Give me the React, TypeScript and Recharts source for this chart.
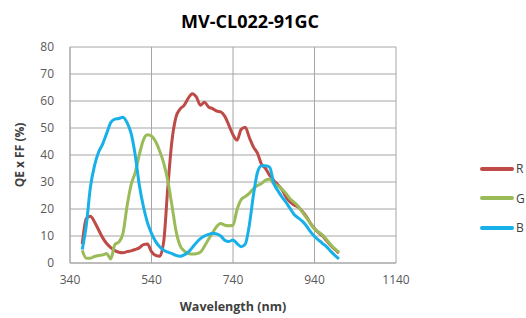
import { CartesianGrid, Legend, Line, LineChart, XAxis, YAxis } from "recharts"

const wavelengths = [
  370, 380, 390, 400, 410, 420, 430, 440, 450, 460, 470, 480, 490, 500, 510, 520, 530, 540, 550, 560,
  570, 580, 590, 600, 610, 620, 630, 640, 650, 660, 670, 680, 690, 700, 710, 720, 730, 740, 750, 760,
  770, 780, 790, 800, 810, 820, 830, 840, 850, 860, 870, 880, 890, 900, 910, 920, 930, 940, 950, 960,
  970, 980, 990, 1000,
]

const red = [
  7, 16.5, 17.3, 15.3, 12.3, 9.4, 7.2, 5.7, 4.6, 4, 3.8, 4.2, 4.5, 5, 5.6, 6.8, 7, 4.2, 2.8, 2.5,
  8, 28, 45, 54, 57, 58.4, 61, 62.7, 61.5, 58.4, 59.5, 57.8, 57.2, 56.3, 56, 54.3, 51, 47.5, 45.5, 49.5,
  50.3, 46.5, 43, 40.7, 36.6, 35, 32.4, 30.6, 29, 27.2, 24.5, 22.6, 21.5, 20.7, 19.2, 17.2, 14.7, 12.8, 11.2, 10,
  8.2, 6.5, 5, 3.7,
]

const green = [
  4.7, 1.8, 1.8, 2.4, 2.8, 3, 3.5, 1.5, 6.8, 7.8, 11, 21, 29, 33.5, 40, 45.5, 47.5, 47, 45, 41.5,
  37, 30.5, 21.5, 12, 6.5, 4.5, 3.6, 3.3, 3.4, 4, 6.2, 8.8, 11.2, 13.5, 14.6, 14, 13.8, 14, 19.8, 23.5,
  24.6, 25.8, 27.5, 28.7, 29.4, 30.7, 31, 29.4, 28.5, 27.4, 25.8, 23.8, 22.5, 21, 18.9, 16.8, 14.7, 12.6, 11.5, 10.3,
  8.6, 6.8, 5.2, 4,
]

const blue = [
  5, 14, 28, 36, 41, 44, 48, 52, 53.3, 53.5, 54, 52, 48, 40, 29, 21, 15, 11, 8, 6,
  4.7, 4, 3.5, 2.8, 2.5, 3, 4, 5.7, 7.5, 9, 10, 10.6, 11, 10.8, 10, 8.4, 8, 8.5, 7.2, 6,
  7, 14, 25, 33.5, 36, 36, 35.5, 29.5, 26.8, 24.5, 22.5, 20.2, 18, 16.7, 15.5, 13.8, 11.6, 9.8, 8.5, 7.2,
  6, 4.3, 2.8, 1.5,
]

const seriesOrder = ["R", "G", "B"]
const xTicks = [340, 540, 740, 940, 1140]
const yTicks = [0, 10, 20, 30, 40, 50, 60, 70, 80]

const data = wavelengths.map((w, i) => ({ w, R: red[i], G: green[i], B: blue[i] }))

const font = "'Open Sans', 'Liberation Sans', sans-serif"

function LegendBox(props: any) {
  const items = [...(props.payload || [])].sort(
    (a: any, b: any) => seriesOrder.indexOf(a.value) - seriesOrder.indexOf(b.value)
  )
  return (
    <div style={{ fontFamily: font, fontSize: 12, color: "#404040" }}>
      {items.map((it: any) => (
        <div key={it.value} style={{ display: "flex", alignItems: "center", height: 29.5 }}>
          <div style={{ width: 34, height: 4, borderRadius: 2, background: it.color }} />
          <span style={{ marginLeft: 2 }}>{it.value}</span>
        </div>
      ))}
    </div>
  )
}

export default function App() {
  return (
    <div style={{ position: "relative", width: 526, height: 318, background: "#fff" }}>
      <style>{`body{margin:0}`}</style>
      <div
        style={{
          position: "absolute",
          top: 9,
          left: 0,
          width: 500,
          textAlign: "center",
          fontFamily: font,
          fontWeight: 700,
          fontSize: 18,
          color: "#000",
        }}
      >
        MV-CL022-91GC
      </div>
      <LineChart width={526} height={318} data={data} margin={{ top: 47, right: 84, bottom: 25, left: 0 }}>
        <CartesianGrid stroke="#a6a6a6" strokeWidth={1} />
        <XAxis
          dataKey="w"
          type="number"
          domain={[340, 1140]}
          ticks={xTicks}
          height={30}
          tickSize={0}
          tickMargin={12}
          axisLine={{ stroke: "#a6a6a6" }}
          tick={{ fill: "#595959", fontSize: 12, fontFamily: font }}
          label={{
            value: "Wavelength (nm)",
            position: "insideBottom",
            offset: -18,
            style: { fontFamily: font, fontWeight: 700, fontSize: 12.5, fill: "#404040" },
          }}
        />
        <YAxis
          type="number"
          domain={[0, 80]}
          ticks={yTicks}
          width={70}
          tickSize={0}
          tickMargin={16}
          axisLine={{ stroke: "#a6a6a6" }}
          tick={{ fill: "#595959", fontSize: 12, fontFamily: font }}
          label={{
            value: "QE x FF (%)",
            angle: -90,
            position: "insideLeft",
            offset: 20,
            style: { textAnchor: "middle", fontFamily: font, fontWeight: 700, fontSize: 12, fill: "#404040" },
          }}
        />
        <Legend
          layout="vertical"
          align="right"
          verticalAlign="top"
          content={<LegendBox />}
          wrapperStyle={{ left: 480, top: 154, width: 46 }}
        />
        <Line type="monotone" dataKey="R" stroke="#be4b48" strokeWidth={3} dot={false} isAnimationActive={false} />
        <Line type="monotone" dataKey="G" stroke="#9bbb59" strokeWidth={3} dot={false} isAnimationActive={false} />
        <Line type="monotone" dataKey="B" stroke="#17b0e8" strokeWidth={3} dot={false} isAnimationActive={false} />
      </LineChart>
    </div>
  )
}
